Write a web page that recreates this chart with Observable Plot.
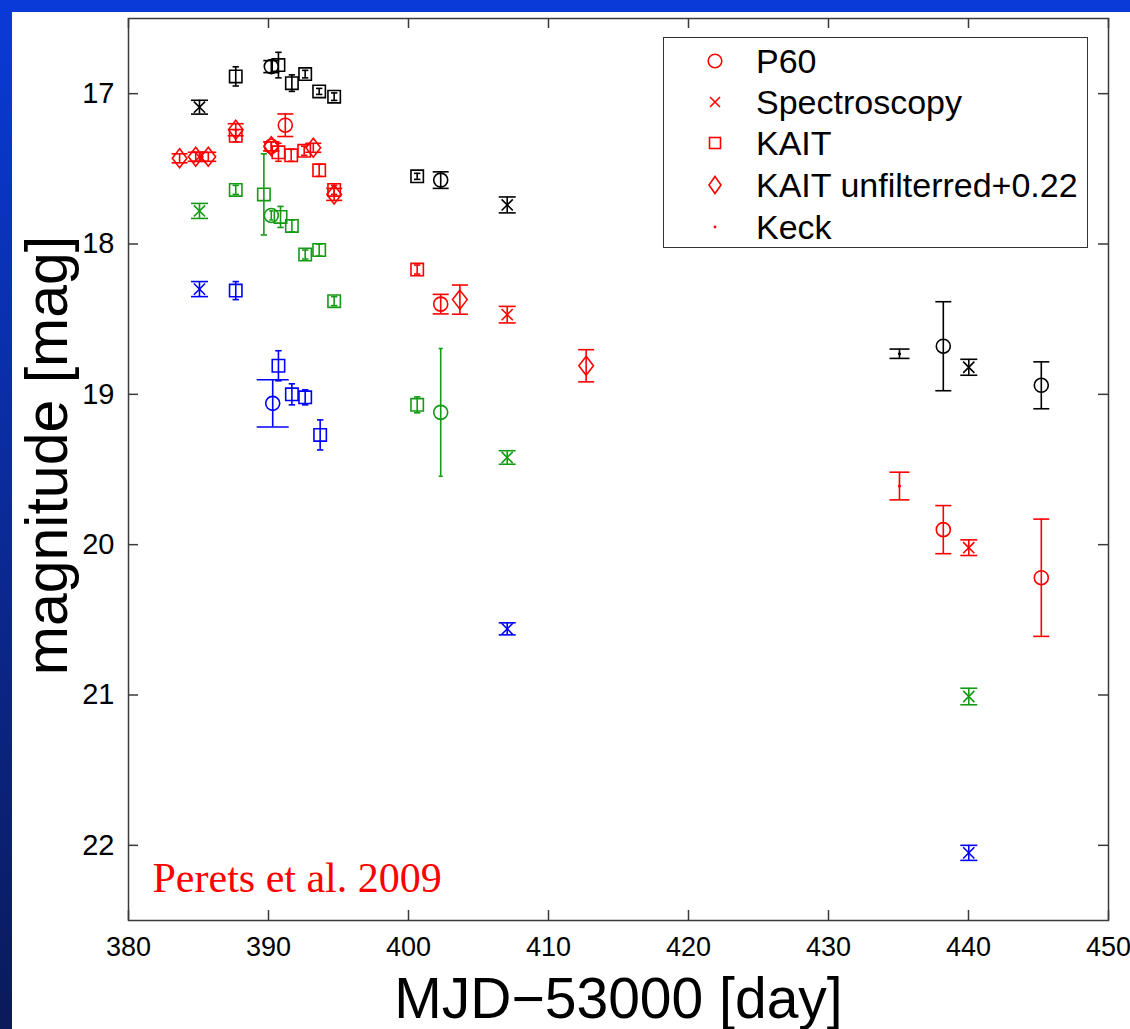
<!DOCTYPE html>
<html>
<head>
<meta charset="utf-8">
<script src="https://cdn.jsdelivr.net/npm/d3@7"></script>
<script src="https://cdn.jsdelivr.net/npm/@observablehq/plot@0.6"></script>
<style>
  html, body { margin: 0; padding: 0; }
  body {
    width: 1130px; height: 1029px; position: relative; overflow: hidden;
    background: linear-gradient(to bottom, #0a3ad8 0%, #0a2c9e 45%, #0a1a5a 100%);
    font-family: "Liberation Sans", Arial, sans-serif;
  }
  #paper { position: absolute; left: 12px; top: 12px; right: 0; bottom: 0; background: #fff; }
  #chart { position: absolute; left: 0; top: 0; }
  #legend {
    position: absolute; left: 663px; top: 37px; width: 425px; height: 211px;
    box-sizing: border-box; border: 1.5px solid #333; background: #fff;
  }
  .row { position: absolute; left: 0; height: 40px; width: 100%; }
  .row svg { position: absolute; left: 41px; top: 10px; }
  .row span {
    position: absolute; left: 92px; top: 0; line-height: 40px; font-size: 34px; color: #000;
    font-family: "Liberation Sans", Arial, sans-serif; white-space: nowrap;
  }
</style>
</head>
<body>
<div id="paper"></div>
<div id="chart"></div>
<div id="legend"></div>
<script>
// ---------------- data ----------------
// each row: [band colour, MJD-53000, magnitude, error]
const p60 = [
  ["black", 390.2, 16.82, 0.04], ["black", 402.3, 17.575, 0.055], ["black", 438.2, 18.68, 0.296], ["black", 445.2, 18.94, 0.156],
  ["red", 390.2, 17.35, 0.03], ["red", 391.2, 17.21, 0.075], ["red", 402.3, 18.40, 0.065], ["red", 438.2, 19.90, 0.16], ["red", 445.2, 20.22, 0.39],
  ["green", 390.2, 17.81, 0.03], ["green", 402.3, 19.12, 0.425],
  ["blue", 390.3, 19.06, 0.157]
];
const spectroscopy = [
  ["black", 385.07, 17.09, 0.046], ["black", 407.05, 17.74, 0.053], ["black", 440.02, 18.82, 0.053],
  ["red", 385.07, 17.42, 0.03], ["red", 407.05, 18.47, 0.055], ["red", 440.02, 20.02, 0.052],
  ["green", 385.07, 17.78, 0.05], ["green", 407.05, 19.42, 0.045], ["green", 440.02, 21.01, 0.055],
  ["blue", 385.07, 18.30, 0.05], ["blue", 407.05, 20.56, 0.04], ["blue", 440.02, 22.05, 0.05]
];
const kait = [
  ["black", 387.66, 16.885, 0.064], ["black", 390.71, 16.81, 0.085], ["black", 391.67, 16.93, 0.055], ["black", 392.62, 16.87, 0.025],
  ["black", 393.62, 16.985, 0.02], ["black", 394.69, 17.02, 0.025], ["black", 400.62, 17.55, 0.02],
  ["red", 387.66, 17.28, 0.04], ["red", 390.71, 17.39, 0.06], ["red", 391.62, 17.41, 0.04], ["red", 392.55, 17.38, 0.03],
  ["red", 393.62, 17.51, 0.04], ["red", 394.69, 17.64, 0.03], ["red", 400.62, 18.17, 0.03],
  ["green", 387.66, 17.64, 0.03], ["green", 389.67, 17.67, 0.27], ["green", 390.86, 17.82, 0.07], ["green", 391.67, 17.88, 0.04],
  ["green", 392.62, 18.07, 0.03], ["green", 393.62, 18.04, 0.04], ["green", 394.69, 18.38, 0.03], ["green", 400.62, 19.07, 0.053],
  ["blue", 387.66, 18.31, 0.06], ["blue", 390.71, 18.81, 0.10], ["blue", 391.67, 19.00, 0.07], ["blue", 392.62, 19.02, 0.05],
  ["blue", 393.69, 19.27, 0.10]
];
const kaitUnfiltered = [
  ["red", 383.65, 17.43, 0.03], ["red", 384.8, 17.42, 0.03], ["red", 385.7, 17.42, 0.03], ["red", 387.66, 17.24, 0.04],
  ["red", 390.2, 17.35, 0.03], ["red", 393.2, 17.36, 0.03], ["red", 394.69, 17.67, 0.04],
  ["red", 403.67, 18.37, 0.097], ["red", 412.69, 18.81, 0.107]
];
const keck = [
  ["black", 435.07, 18.73, 0.031], ["red", 435.07, 19.61, 0.092]
];
const xTicks = [380, 390, 400, 410, 420, 430, 440, 450];
const yTicks = [17, 18, 19, 20, 21, 22];
const xDomain = [380, 450];
const yDomain = [16.5, 22.5];
const legendLabels = ["P60", "Spectroscopy", "KAIT", "KAIT unfilterred+0.22", "Keck"];
const xTitle = "MJD\u221253000 [day]";
const yTitle = "magnitude [mag]";
const credit = "Perets et al. 2009";

// ---------------- styles ----------------
const bandColor = {black: "#000000", red: "#ff0000", green: "#159a15", blue: "#0000ff"};
const capHalfWidth = {p60: {black: 8, red: 8, green: 2, blue: 16}, spec: 8.5, kait: 3.2, unf: 8, keck: 10};
const W = 1130, H = 1029, mL = 128, mR = 22, mT = 18, mB = 109;
const innerW = W - mL - mR, innerH = H - mT - mB;
const SW = 1.6;

const rows = (arr, inst) => arr.map(([band, day, mag, err]) => ({inst, band, day, mag, err, c: bandColor[band]}));
const P = rows(p60, "p60"), S = rows(spectroscopy, "spec"), K = rows(kait, "kait"), U = rows(kaitUnfiltered, "unf"), KE = rows(keck, "keck");
const all = [...P, ...S, ...K, ...U, ...KE];
const capOf = d => d.inst === "p60" ? capHalfWidth.p60[d.band] : capHalfWidth[d.inst];

const half = size => Math.sqrt(size / Math.PI);
const capSym = {draw(ctx, size) { const w = half(size); ctx.moveTo(-w, 0); ctx.lineTo(w, 0); }};
const diamondSym = {draw(ctx, size) { const w = half(size), h = w * 1.3; ctx.moveTo(0, -h); ctx.lineTo(w, 0); ctx.lineTo(0, h); ctx.lineTo(-w, 0); ctx.closePath(); }};
const timesSym = {draw(ctx, size) { const w = half(size); ctx.moveTo(-w, -w); ctx.lineTo(w, w); ctx.moveTo(-w, w); ctx.lineTo(w, -w); }};
const squareSym = {draw(ctx, size) { const w = half(size); ctx.rect(-w, -w, 2 * w, 2 * w); }};

const capMarks = d3.groups(all, capOf).flatMap(([cw, data]) => [
  Plot.dot(data, {x: "day", y: d => d.mag - d.err, symbol: capSym, r: cw, stroke: "c", strokeWidth: SW}),
  Plot.dot(data, {x: "day", y: d => d.mag + d.err, symbol: capSym, r: cw, stroke: "c", strokeWidth: SW})
]);

const plot = Plot.plot({
  width: W, height: H,
  marginLeft: mL, marginRight: mR, marginTop: mT, marginBottom: mB,
  style: {background: "transparent", overflow: "visible", fontFamily: "Liberation Sans, Arial, sans-serif"},
  x: {domain: xDomain},
  y: {domain: yDomain, reverse: true},
  color: {type: "identity"},
  marks: [
    // error bars
    Plot.ruleX(all, {x: "day", y1: d => d.mag - d.err, y2: d => d.mag + d.err, stroke: "c", strokeWidth: SW}),
    ...capMarks,
    // markers
    Plot.dot(K, {x: "day", y: "mag", symbol: squareSym, r: 6.2, stroke: "c", strokeWidth: SW, fill: "none"}),
    Plot.dot(P, {x: "day", y: "mag", r: 7, stroke: "c", strokeWidth: SW, fill: "none"}),
    Plot.dot(U, {x: "day", y: "mag", symbol: diamondSym, r: 7.3, stroke: "c", strokeWidth: SW, fill: "none"}),
    Plot.dot(S, {x: "day", y: "mag", symbol: timesSym, r: 5.6, stroke: "c", strokeWidth: SW, fill: "none"}),
    Plot.dot(KE, {x: "day", y: "mag", r: 1.6, fill: "c", stroke: null}),
    // frame, inward ticks
    Plot.frame({stroke: "#3a3a3a", strokeWidth: 1.5}),
    Plot.tickX(xTicks, {x: d => d, insetTop: innerH - 10, stroke: "#3a3a3a", strokeWidth: 1.5}),
    Plot.tickX(xTicks, {x: d => d, insetBottom: innerH - 10, stroke: "#3a3a3a", strokeWidth: 1.5}),
    Plot.tickY(yTicks, {y: d => d, insetRight: innerW - 10, stroke: "#3a3a3a", strokeWidth: 1.5}),
    Plot.tickY(yTicks, {y: d => d, insetLeft: innerW - 10, stroke: "#3a3a3a", strokeWidth: 1.5}),
    // tick labels
    Plot.axisX(xTicks, {tickSize: 0, tickPadding: 16, fontSize: 27, fill: "#000", label: null, tickFormat: d3.format("d")}),
    Plot.axisY(yTicks, {tickSize: 0, tickPadding: 14, fontSize: 29, fill: "#000", label: null, tickFormat: d3.format("d")}),
    // titles
    Plot.text([xTitle], {text: d => d, frameAnchor: "bottom", dy: 79, fontSize: 57, textAnchor: "middle", lineAnchor: "middle", fill: "#000"}),
    Plot.text([yTitle], {text: d => d, frameAnchor: "left", dx: -80, dy: -14, rotate: -90, fontSize: 59, textAnchor: "middle", lineAnchor: "middle", fill: "#000"}),
    Plot.text([credit], {text: d => d, frameAnchor: "bottom-left", dx: 24, dy: -42, textAnchor: "start", lineAnchor: "middle",
      fontSize: 42, fill: "#ff0000", fontFamily: "Liberation Serif, Times New Roman, serif"})
  ]
});
document.getElementById("chart").appendChild(plot);

// ---------------- legend ----------------
const legendMarkers = [
  '<circle cx="10" cy="10" r="6.8" fill="none" stroke="#ff0000" stroke-width="1.6"/>',
  '<path d="M5,5L15,15M5,15L15,5" stroke="#ff0000" stroke-width="1.6"/>',
  '<rect x="4.5" y="4.5" width="11" height="11" fill="none" stroke="#ff0000" stroke-width="1.6"/>',
  '<path d="M10,1.5L16,10L10,18.5L4,10Z" fill="none" stroke="#ff0000" stroke-width="1.6"/>',
  '<circle cx="10" cy="10" r="1.4" fill="#ff0000"/>'
];
const rowCenters = [23, 64, 105, 147, 189];
const leg = document.getElementById("legend");
legendLabels.forEach((lab, i) => {
  const r = document.createElement("div");
  r.className = "row";
  r.style.top = (rowCenters[i] - 20) + "px";
  r.innerHTML = `<svg width="20" height="20" viewBox="0 0 20 20">${legendMarkers[i]}</svg><span>${lab}</span>`;
  leg.appendChild(r);
});
</script>
</body>
</html>
